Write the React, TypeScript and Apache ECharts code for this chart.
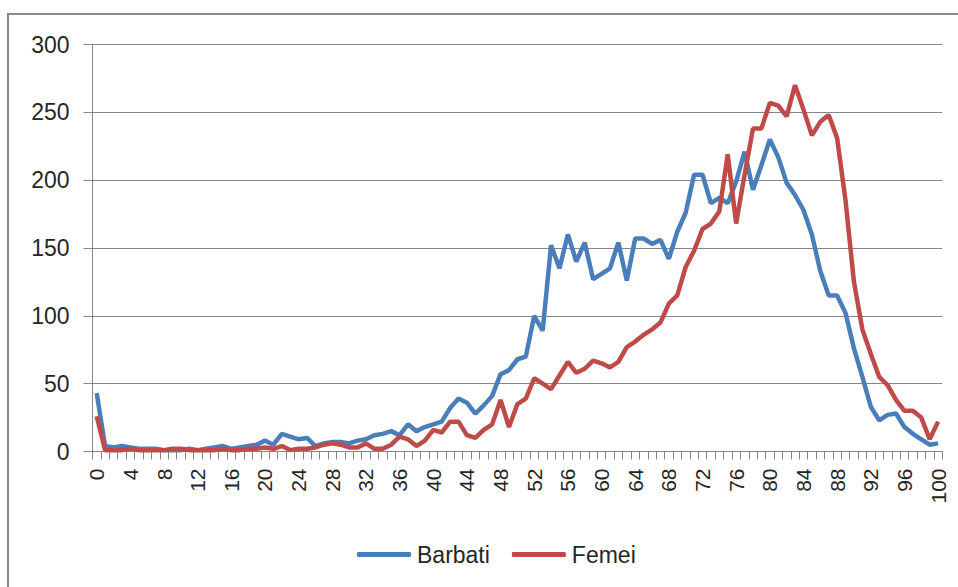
import React, { useEffect, useRef } from "react";
import * as echarts from "echarts";

const ages: string[] = Array.from({ length: 101 }, (_, i) => String(i));

const barbati: number[] = [
  43, 4, 3, 4, 3, 2, 2, 2, 1, 1,
  1, 2, 1, 2, 3, 4, 2, 3, 4, 5,
  8, 5, 13, 11, 9, 10, 4, 6, 7, 7,
  6, 8, 9, 12, 13, 15, 12, 20, 15, 18,
  20, 22, 32, 39, 36, 28, 34, 41, 57, 60,
  68, 70, 100, 89, 152, 135, 160, 140, 154, 127,
  131, 135, 154, 126, 157, 157, 153, 156, 142, 162,
  176, 204, 204, 183, 187, 183, 199, 221, 193, 211,
  230, 217, 198, 189, 178, 160, 133, 115, 115, 102,
  76, 55, 33, 23, 27, 28, 18, 13, 9, 5,
  6,
];

const femei: number[] = [
  26, 1, 1, 1, 2, 1, 1, 1, 1, 2,
  2, 1, 1, 1, 1, 2, 1, 1, 2, 2,
  3, 2, 4, 1, 2, 2, 3, 5, 6, 5,
  3, 3, 6, 2, 2, 5, 11, 9, 4, 8,
  16, 14, 22, 22, 12, 10, 16, 20, 38, 18,
  35, 39, 54, 50, 46, 56, 66, 58, 61, 67,
  65, 62, 66, 77, 81, 86, 90, 95, 109, 115,
  136, 148, 164, 168, 177, 219, 168, 204, 238, 238,
  257, 255, 247, 270, 252, 233, 243, 248, 231, 185,
  125, 90, 72, 55, 49, 38, 30, 30, 25, 9,
  22,
];

const seriesNames: string[] = ["Barbati", "Femei"];
const yTicks = { min: 0, max: 300, interval: 50 };

const FONT = "'Liberation Sans', Arial, sans-serif";
const GRAY = "#868686";
const TEXT = "#262626";

export default function App() {
  const ref = useRef<HTMLDivElement>(null);

  useEffect(() => {
    if (!ref.current) return;
    const chart = echarts.init(ref.current, null, { renderer: "svg" });
    chart.setOption({
      animation: false,
      backgroundColor: "#ffffff",
      grid: { left: 92.5, right: 15.7, top: 44.5, bottom: 135.5, containLabel: false },
      graphic: [
        {
          type: "rect",
          shape: { x: 8, y: 14, width: 1000, height: 700 },
          style: { fill: "none", stroke: "#898989", lineWidth: 2 },
          silent: true,
        },
      ],
      legend: {
        data: seriesNames,
        left: 352,
        top: 538,
        icon: "roundRect",
        itemWidth: 54,
        itemHeight: 5,
        itemGap: 22,
        textStyle: { fontSize: 23, color: TEXT, fontFamily: FONT, padding: [0, 0, 0, 1] },
      },
      xAxis: {
        type: "category",
        data: ages,
        boundaryGap: true,
        axisLine: { show: true, lineStyle: { color: GRAY, width: 1 } },
        axisTick: { show: true, interval: 0, length: 8, lineStyle: { color: GRAY } },
        axisLabel: {
          interval: 3,
          rotate: 90,
          margin: 17,
          fontSize: 21,
          color: TEXT,
          fontFamily: FONT,
        },
        splitLine: { show: false },
      },
      yAxis: {
        type: "value",
        min: yTicks.min,
        max: yTicks.max,
        interval: yTicks.interval,
        axisLine: { show: true, lineStyle: { color: GRAY, width: 1 } },
        axisTick: { show: true, length: 9, lineStyle: { color: GRAY } },
        axisLabel: { margin: 23, fontSize: 23, color: TEXT, fontFamily: FONT },
        splitLine: { show: true, lineStyle: { color: GRAY, width: 1 } },
      },
      series: [
        {
          name: seriesNames[0],
          type: "line",
          data: barbati,
          symbol: "none",
          lineStyle: { color: "#4a7ebb", width: 4.5 },
          itemStyle: { color: "#4a7ebb" },
        },
        {
          name: seriesNames[1],
          type: "line",
          data: femei,
          symbol: "none",
          lineStyle: { color: "#be4b48", width: 4.5 },
          itemStyle: { color: "#be4b48" },
        },
      ],
    });
    return () => chart.dispose();
  }, []);

  return (
    <div
      ref={ref}
      style={{ position: "fixed", left: 0, top: 0, width: 958, height: 587, background: "#fff" }}
    />
  );
}
